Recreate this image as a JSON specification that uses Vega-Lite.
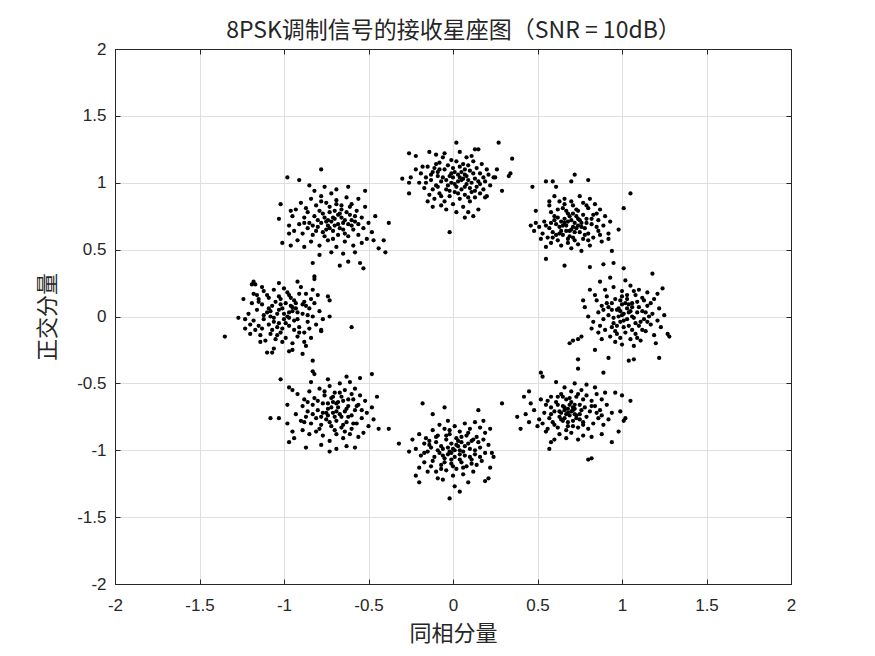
{
"$schema": "https://vega.github.io/schema/vega-lite/v6.json",
"width": 676, "height": 535,
"autosize": {"type": "none"},
"padding": {"left": 115, "top": 49, "right": 84, "bottom": 72},
"background": "white",
"config": {"view": {"stroke": "#262626", "strokeWidth": 1}},
"data": {"values": [
{"i":-0.15,"q":1.12},{"i":-0.12,"q":1.08},{"i":-0.08,"q":1.15},{"i":-0.05,"q":1.10},{"i":-0.02,"q":1.05},{"i":0.01,"q":1.08},{"i":0.04,"q":1.12},{"i":0.07,"q":1.06},{"i":0.10,"q":1.09},{"i":0.13,"q":1.03},{"i":0.16,"q":1.07},{"i":0.19,"q":1.01},{"i":0.22,"q":0.98},{"i":0.18,"q":0.95},{"i":0.14,"q":0.97},{"i":0.11,"q":0.93},{"i":0.08,"q":0.99},{"i":0.05,"q":1.02},{"i":0.02,"q":0.97},{"i":-0.01,"q":1.00},{"i":-0.04,"q":0.95},{"i":-0.07,"q":1.01},{"i":-0.10,"q":0.98},{"i":-0.13,"q":1.02},{"i":-0.16,"q":1.04},{"i":-0.19,"q":1.07},{"i":-0.17,"q":0.96},{"i":-0.14,"q":0.91},{"i":-0.11,"q":0.88},{"i":-0.08,"q":0.92},{"i":-0.05,"q":0.86},{"i":-0.02,"q":0.90},{"i":0.01,"q":0.93},{"i":0.04,"q":0.88},{"i":0.07,"q":0.91},{"i":0.10,"q":0.86},{"i":0.13,"q":0.89},{"i":0.16,"q":0.92},{"i":-0.09,"q":1.05},{"i":-0.03,"q":1.13},{"i":0.02,"q":1.16},{"i":0.06,"q":1.03},{"i":0.09,"q":1.13},{"i":0.12,"q":1.16},{"i":-0.06,"q":1.19},{"i":0.00,"q":1.04},{"i":0.03,"q":1.01},{"i":-0.01,"q":1.07},{"i":0.05,"q":0.95},{"i":0.09,"q":1.02},{"i":-0.12,"q":0.95},{"i":-0.18,"q":1.12},{"i":-0.22,"q":1.10},{"i":0.20,"q":1.10},{"i":0.24,"q":1.04},{"i":0.17,"q":1.14},{"i":-0.07,"q":0.83},{"i":-0.12,"q":0.82},{"i":0.00,"q":0.84},{"i":0.06,"q":0.82},{"i":-0.15,"q":0.86},{"i":-0.03,"q":0.98},{"i":0.11,"q":1.00},{"i":0.15,"q":1.01},{"i":0.03,"q":1.06},{"i":-0.08,"q":1.10},{"i":0.07,"q":0.97},{"i":-0.20,"q":1.00},{"i":0.26,"q":1.10},{"i":0.20,"q":0.90},{"i":-0.04,"q":0.80},{"i":0.09,"q":0.78},{"i":-0.10,"q":1.14},{"i":0.14,"q":1.11},
{"i":-0.06,"q":1.04},{"i":0.00,"q":1.11},{"i":0.05,"q":1.08},{"i":0.08,"q":1.05},{"i":-0.02,"q":0.94},{"i":0.03,"q":0.92},{"i":0.10,"q":0.96},{"i":-0.09,"q":0.97},{"i":-0.04,"q":1.02},{"i":0.12,"q":1.07},{"i":0.16,"q":0.99},{"i":-0.13,"q":1.06},{"i":0.06,"q":1.14},{"i":-0.11,"q":1.11},{"i":0.01,"q":0.99},{"i":0.04,"q":1.04},{"i":-0.07,"q":0.90},{"i":0.09,"q":0.89},{"i":0.18,"q":1.04},{"i":-0.16,"q":1.00},{"i":0.21,"q":1.06},{"i":-0.01,"q":1.17},{"i":0.13,"q":0.94},{"i":-0.09,"q":1.08},{"i":0.07,"q":1.10},
{"i":0.02,"q":1.30},{"i":0.27,"q":1.30},{"i":0.35,"q":1.18},{"i":-0.02,"q":0.63},{"i":-0.30,"q":1.03},{"i":0.25,"q":1.04},{"i":0.29,"q":0.94},{"i":0.19,"q":0.89},{"i":0.15,"q":0.80},{"i":0.07,"q":0.74},{"i":0.12,"q":0.75},{"i":0.02,"q":0.78},{"i":-0.14,"q":1.23},{"i":-0.10,"q":1.21},{"i":-0.05,"q":1.22},{"i":0.08,"q":1.19},{"i":0.11,"q":1.20},{"i":0.04,"q":1.23},{"i":0.13,"q":1.25},{"i":0.15,"q":1.25},{"i":-0.22,"q":1.20},{"i":-0.26,"q":1.22},{"i":-0.25,"q":1.04},{"i":-0.26,"q":1.00},{"i":-0.26,"q":0.92},{"i":0.34,"q":1.07},{"i":0.33,"q":1.05},
{"i":0.58,"q":0.78},{"i":0.62,"q":0.74},{"i":0.65,"q":0.81},{"i":0.68,"q":0.77},{"i":0.71,"q":0.83},{"i":0.74,"q":0.79},{"i":0.77,"q":0.85},{"i":0.80,"q":0.81},{"i":0.83,"q":0.76},{"i":0.86,"q":0.72},{"i":0.82,"q":0.69},{"i":0.79,"q":0.73},{"i":0.76,"q":0.70},{"i":0.73,"q":0.66},{"i":0.70,"q":0.72},{"i":0.67,"q":0.68},{"i":0.64,"q":0.64},{"i":0.61,"q":0.69},{"i":0.57,"q":0.66},{"i":0.54,"q":0.71},{"i":0.51,"q":0.67},{"i":0.53,"q":0.62},{"i":0.56,"q":0.59},{"i":0.59,"q":0.63},{"i":0.62,"q":0.57},{"i":0.65,"q":0.61},{"i":0.68,"q":0.55},{"i":0.71,"q":0.59},{"i":0.74,"q":0.54},{"i":0.77,"q":0.58},{"i":0.80,"q":0.62},{"i":0.83,"q":0.59},{"i":0.86,"q":0.64},{"i":0.89,"q":0.68},{"i":0.90,"q":0.75},{"i":0.87,"q":0.80},{"i":0.84,"q":0.84},{"i":0.66,"q":0.88},{"i":0.63,"q":0.86},{"i":0.60,"q":0.90},{"i":0.75,"q":0.90},{"i":0.69,"q":0.64},{"i":0.72,"q":0.70},{"i":0.66,"q":0.73},{"i":0.63,"q":0.67},{"i":0.60,"q":0.72},{"i":0.78,"q":0.66},{"i":0.75,"q":0.63},{"i":0.69,"q":0.60},{"i":0.64,"q":0.53},{"i":0.70,"q":0.51},{"i":0.76,"q":0.49},{"i":0.58,"q":0.55},{"i":0.55,"q":0.52},{"i":0.52,"q":0.58},{"i":0.49,"q":0.70},{"i":0.48,"q":0.64},{"i":0.93,"q":0.71},{"i":0.92,"q":0.62},{"i":0.88,"q":0.56},{"i":0.81,"q":0.53},{"i":0.67,"q":0.79},{"i":0.73,"q":0.75},{"i":0.77,"q":0.76},{"i":0.81,"q":0.88},{"i":0.70,"q":0.86},{"i":0.57,"q":0.83},{"i":0.61,"q":0.61},{"i":0.67,"q":0.64},{"i":0.72,"q":0.63},{"i":0.74,"q":0.68},{"i":0.79,"q":0.70},{"i":0.64,"q":0.71},{"i":0.68,"q":0.71},{"i":0.85,"q":0.67},
{"i":0.66,"q":0.70},{"i":0.71,"q":0.67},{"i":0.75,"q":0.72},{"i":0.69,"q":0.75},{"i":0.63,"q":0.62},{"i":0.78,"q":0.61},{"i":0.73,"q":0.80},{"i":0.60,"q":0.75},{"i":0.82,"q":0.73},{"i":0.68,"q":0.58},{"i":0.85,"q":0.77},{"i":0.55,"q":0.68},{"i":0.72,"q":0.57},{"i":0.66,"q":0.84},{"i":0.79,"q":0.83},{"i":0.62,"q":0.80},{"i":0.87,"q":0.61},{"i":0.59,"q":0.59},{"i":0.76,"q":0.67},{"i":0.70,"q":0.65},{"i":0.65,"q":0.68},{"i":0.74,"q":0.73},{"i":0.80,"q":0.57},{"i":0.58,"q":0.70},{"i":0.71,"q":0.77},
{"i":0.47,"q":0.97},{"i":0.55,"q":1.01},{"i":0.59,"q":1.01},{"i":0.61,"q":0.97},{"i":0.70,"q":1.01},{"i":0.72,"q":1.06},{"i":0.80,"q":1.02},{"i":1.05,"q":0.92},{"i":1.01,"q":0.81},{"i":0.55,"q":0.43},{"i":0.66,"q":0.38},{"i":0.81,"q":0.37},{"i":0.89,"q":0.39},{"i":0.95,"q":0.40},{"i":1.01,"q":0.36},{"i":0.94,"q":0.49},{"i":0.92,"q":0.58},{"i":0.98,"q":0.65},{"i":0.46,"q":0.68},{"i":0.49,"q":0.79},{"i":0.57,"q":0.86},
{"i":0.85,"q":0.12},{"i":0.88,"q":0.08},{"i":0.91,"q":0.15},{"i":0.94,"q":0.10},{"i":0.97,"q":0.05},{"i":1.00,"q":0.09},{"i":1.03,"q":0.13},{"i":1.06,"q":0.07},{"i":1.09,"q":0.11},{"i":1.12,"q":0.04},{"i":1.15,"q":0.08},{"i":1.18,"q":0.02},{"i":1.21,"q":-0.03},{"i":1.17,"q":-0.06},{"i":1.13,"q":-0.02},{"i":1.10,"q":-0.07},{"i":1.07,"q":-0.01},{"i":1.04,"q":0.03},{"i":1.01,"q":-0.03},{"i":0.98,"q":0.00},{"i":0.95,"q":-0.05},{"i":0.92,"q":0.01},{"i":0.89,"q":-0.02},{"i":0.86,"q":0.03},{"i":0.83,"q":-0.04},{"i":0.80,"q":0.00},{"i":0.82,"q":-0.09},{"i":0.86,"q":-0.12},{"i":0.90,"q":-0.10},{"i":0.93,"q":-0.15},{"i":0.96,"q":-0.11},{"i":0.99,"q":-0.16},{"i":1.02,"q":-0.12},{"i":1.05,"q":-0.17},{"i":1.08,"q":-0.13},{"i":1.11,"q":-0.18},{"i":1.14,"q":-0.11},{"i":1.19,"q":-0.14},{"i":1.23,"q":-0.08},{"i":1.22,"q":0.06},{"i":1.19,"q":0.13},{"i":1.15,"q":0.18},{"i":1.10,"q":0.20},{"i":1.05,"q":0.23},{"i":1.00,"q":0.19},{"i":0.95,"q":0.22},{"i":0.90,"q":0.20},{"i":0.87,"q":0.26},{"i":0.93,"q":0.29},{"i":1.02,"q":0.27},{"i":1.08,"q":0.16},{"i":1.03,"q":0.06},{"i":0.99,"q":0.12},{"i":1.06,"q":0.00},{"i":1.01,"q":0.02},{"i":0.97,"q":-0.07},{"i":1.09,"q":0.03},{"i":1.12,"q":-0.10},{"i":1.16,"q":0.00},{"i":0.94,"q":0.05},{"i":1.04,"q":-0.07},{"i":1.00,"q":-0.21},{"i":1.07,"q":-0.22},{"i":0.96,"q":-0.19},{"i":0.91,"q":0.10},{"i":1.13,"q":0.12},{"i":1.25,"q":0.01},{"i":0.78,"q":0.07},{"i":0.84,"q":0.16},{"i":1.20,"q":-0.20},{"i":0.88,"q":-0.17},{"i":1.03,"q":0.16},{"i":1.11,"q":-0.04},{"i":0.99,"q":0.04},{"i":1.06,"q":0.10},
{"i":1.00,"q":0.01},{"i":1.03,"q":-0.02},{"i":1.05,"q":0.04},{"i":0.98,"q":0.06},{"i":1.08,"q":-0.05},{"i":0.95,"q":-0.01},{"i":1.10,"q":0.07},{"i":1.02,"q":0.10},{"i":0.97,"q":-0.13},{"i":1.14,"q":0.03},{"i":0.92,"q":0.07},{"i":1.06,"q":-0.10},{"i":1.01,"q":-0.08},{"i":0.89,"q":0.05},{"i":1.17,"q":0.10},{"i":1.12,"q":0.14},{"i":0.94,"q":-0.08},{"i":1.00,"q":0.15},{"i":1.09,"q":-0.16},{"i":0.87,"q":-0.07},{"i":1.15,"q":-0.04},{"i":1.04,"q":0.09},{"i":0.96,"q":0.13},{"i":1.07,"q":0.19},{"i":0.99,"q":-0.04},
{"i":1.18,"q":0.32},{"i":0.69,"q":-0.20},{"i":0.71,"q":-0.18},{"i":0.74,"q":-0.17},{"i":0.76,"q":-0.15},{"i":0.74,"q":-0.32},{"i":1.04,"q":-0.33},{"i":1.07,"q":-0.32},{"i":1.22,"q":-0.31},{"i":1.28,"q":-0.15},{"i":1.27,"q":-0.13},{"i":1.24,"q":0.21},{"i":1.21,"q":0.17},{"i":0.84,"q":-0.25},{"i":0.92,"q":-0.31},{"i":0.81,"q":0.20},{"i":0.77,"q":0.12},
{"i":0.52,"q":-0.62},{"i":0.55,"q":-0.66},{"i":0.58,"q":-0.60},{"i":0.61,"q":-0.64},{"i":0.64,"q":-0.58},{"i":0.67,"q":-0.62},{"i":0.70,"q":-0.56},{"i":0.73,"q":-0.60},{"i":0.76,"q":-0.55},{"i":0.79,"q":-0.59},{"i":0.82,"q":-0.63},{"i":0.85,"q":-0.58},{"i":0.88,"q":-0.62},{"i":0.91,"q":-0.66},{"i":0.87,"q":-0.70},{"i":0.84,"q":-0.67},{"i":0.81,"q":-0.71},{"i":0.78,"q":-0.68},{"i":0.75,"q":-0.73},{"i":0.72,"q":-0.69},{"i":0.69,"q":-0.74},{"i":0.66,"q":-0.70},{"i":0.63,"q":-0.75},{"i":0.60,"q":-0.71},{"i":0.57,"q":-0.76},{"i":0.54,"q":-0.72},{"i":0.51,"q":-0.77},{"i":0.48,"q":-0.70},{"i":0.46,"q":-0.65},{"i":0.50,"q":-0.82},{"i":0.53,"q":-0.80},{"i":0.56,"q":-0.84},{"i":0.59,"q":-0.79},{"i":0.62,"q":-0.83},{"i":0.65,"q":-0.78},{"i":0.68,"q":-0.82},{"i":0.71,"q":-0.78},{"i":0.74,"q":-0.83},{"i":0.77,"q":-0.79},{"i":0.80,"q":-0.84},{"i":0.83,"q":-0.80},{"i":0.86,"q":-0.76},{"i":0.89,"q":-0.81},{"i":0.92,"q":-0.77},{"i":0.63,"q":-0.88},{"i":0.67,"q":-0.91},{"i":0.70,"q":-0.87},{"i":0.74,"q":-0.92},{"i":0.60,"q":-0.92},{"i":0.77,"q":-0.89},{"i":0.72,"q":-0.50},{"i":0.66,"q":-0.53},{"i":0.61,"q":-0.49},{"i":0.79,"q":-0.51},{"i":0.69,"q":-0.66},{"i":0.72,"q":-0.73},{"i":0.66,"q":-0.76},{"i":0.71,"q":-0.68},{"i":0.68,"q":-0.79},{"i":0.73,"q":-0.76},{"i":0.64,"q":-0.72},{"i":0.75,"q":-0.66},{"i":0.70,"q":-0.71},{"i":0.68,"q":-0.69},{"i":0.65,"q":-0.67},{"i":0.58,"q":-0.68},{"i":0.55,"q":-0.86},{"i":0.82,"q":-0.90},{"i":0.94,"q":-0.72},{"i":0.45,"q":-0.79},{"i":0.43,"q":-0.73},{"i":0.90,"q":-0.57},{"i":0.84,"q":-0.53},{"i":0.62,"q":-0.60},{"i":0.77,"q":-0.62},
{"i":0.68,"q":-0.72},{"i":0.71,"q":-0.70},{"i":0.66,"q":-0.68},{"i":0.73,"q":-0.74},{"i":0.64,"q":-0.77},{"i":0.76,"q":-0.70},{"i":0.70,"q":-0.64},{"i":0.62,"q":-0.66},{"i":0.79,"q":-0.75},{"i":0.67,"q":-0.85},{"i":0.74,"q":-0.58},{"i":0.58,"q":-0.73},{"i":0.82,"q":-0.67},{"i":0.60,"q":-0.81},{"i":0.85,"q":-0.72},{"i":0.71,"q":-0.82},{"i":0.65,"q":-0.60},{"i":0.77,"q":-0.81},{"i":0.56,"q":-0.63},{"i":0.88,"q":-0.74},{"i":0.69,"q":-0.61},{"i":0.63,"q":-0.71},{"i":0.75,"q":-0.77},{"i":0.67,"q":-0.73},{"i":0.72,"q":-0.66},
{"i":0.52,"q":-0.42},{"i":0.53,"q":-0.45},{"i":0.74,"q":-0.39},{"i":0.89,"q":-0.42},{"i":1.05,"q":-0.63},{"i":0.38,"q":-0.75},{"i":0.40,"q":-0.84},{"i":0.42,"q":-0.60},{"i":0.45,"q":-0.56},{"i":0.57,"q":-0.99},{"i":0.80,"q":-1.07},{"i":0.82,"q":-1.06},{"i":0.94,"q":-0.94},{"i":0.98,"q":-0.86},{"i":1.02,"q":-0.76},{"i":1.01,"q":-0.78},{"i":0.99,"q":-0.71},{"i":0.96,"q":-0.57},{"i":1.00,"q":-0.59},{"i":0.88,"q":-0.88},{"i":0.58,"q":-0.94},
{"i":-0.20,"q":-0.88},{"i":-0.16,"q":-0.91},{"i":-0.12,"q":-0.85},{"i":-0.09,"q":-0.89},{"i":-0.05,"q":-0.84},{"i":-0.02,"q":-0.88},{"i":0.01,"q":-0.82},{"i":0.04,"q":-0.86},{"i":0.07,"q":-0.80},{"i":0.10,"q":-0.84},{"i":0.13,"q":-0.79},{"i":0.16,"q":-0.83},{"i":0.19,"q":-0.87},{"i":0.14,"q":-0.90},{"i":0.11,"q":-0.93},{"i":0.08,"q":-0.89},{"i":0.05,"q":-0.94},{"i":0.02,"q":-0.91},{"i":-0.01,"q":-0.95},{"i":-0.04,"q":-0.92},{"i":-0.07,"q":-0.97},{"i":-0.10,"q":-0.94},{"i":-0.13,"q":-0.98},{"i":-0.17,"q":-0.95},{"i":-0.22,"q":-0.99},{"i":-0.19,"q":-1.04},{"i":-0.15,"q":-1.01},{"i":-0.11,"q":-1.05},{"i":-0.08,"q":-1.02},{"i":-0.05,"q":-1.06},{"i":-0.02,"q":-1.01},{"i":0.01,"q":-1.05},{"i":0.04,"q":-1.00},{"i":0.07,"q":-1.04},{"i":0.10,"q":-0.99},{"i":0.13,"q":-1.03},{"i":0.16,"q":-0.98},{"i":0.19,"q":-1.02},{"i":0.21,"q":-0.96},{"i":0.17,"q":-1.08},{"i":0.14,"q":-1.11},{"i":0.11,"q":-1.07},{"i":0.08,"q":-1.12},{"i":0.05,"q":-1.09},{"i":0.02,"q":-1.14},{"i":-0.01,"q":-1.10},{"i":-0.04,"q":-1.15},{"i":-0.07,"q":-1.11},{"i":-0.10,"q":-1.16},{"i":-0.13,"q":-1.12},{"i":-0.17,"q":-1.09},{"i":-0.20,"q":-1.13},{"i":0.00,"q":-1.19},{"i":0.06,"q":-1.18},{"i":-0.06,"q":-1.22},{"i":0.12,"q":-1.16},{"i":0.03,"q":-0.97},{"i":-0.03,"q":-1.03},{"i":0.00,"q":-0.99},{"i":0.06,"q":-1.01},{"i":-0.06,"q":-0.99},{"i":0.09,"q":-0.95},{"i":0.12,"q":-0.92},{"i":0.15,"q":-0.94},{"i":-0.14,"q":-0.93},{"i":-0.24,"q":-0.92},{"i":0.18,"q":-0.78},{"i":0.22,"q":-0.84},{"i":-0.08,"q":-0.81},{"i":0.01,"q":-1.27},{"i":0.09,"q":-1.24},{"i":-0.03,"q":-0.78},{"i":0.04,"q":-1.07},{"i":-0.01,"q":-1.02},{"i":0.02,"q":-0.96},
{"i":0.01,"q":-1.00},{"i":-0.03,"q":-0.98},{"i":0.04,"q":-1.03},{"i":-0.06,"q":-1.04},{"i":0.07,"q":-0.97},{"i":-0.09,"q":-1.00},{"i":0.10,"q":-1.05},{"i":-0.01,"q":-1.07},{"i":0.03,"q":-0.93},{"i":-0.12,"q":-1.08},{"i":0.13,"q":-1.00},{"i":-0.04,"q":-0.89},{"i":0.06,"q":-1.13},{"i":-0.14,"q":-0.96},{"i":0.16,"q":-1.05},{"i":-0.07,"q":-1.14},{"i":0.09,"q":-0.87},{"i":-0.17,"q":-1.02},{"i":0.18,"q":-0.92},{"i":0.00,"q":-1.12},{"i":-0.10,"q":-0.90},{"i":0.11,"q":-1.10},{"i":-0.02,"q":-0.85},{"i":0.05,"q":-0.90},{"i":-0.05,"q":-1.09},
{"i":-0.18,"q":-0.65},{"i":-0.05,"q":-0.68},{"i":0.29,"q":-0.65},{"i":0.15,"q":-0.70},{"i":-0.12,"q":-0.73},{"i":-0.32,"q":-0.95},{"i":-0.26,"q":-1.01},{"i":-0.22,"q":-1.19},{"i":-0.20,"q":-1.24},{"i":-0.02,"q":-1.36},{"i":0.04,"q":-1.31},{"i":0.21,"q":-1.21},{"i":0.22,"q":-1.13},{"i":0.23,"q":-1.02},{"i":0.24,"q":-1.05},{"i":-0.15,"q":-1.16},{"i":-0.09,"q":-1.21},{"i":0.19,"q":-1.23},
{"i":-0.92,"q":-0.58},{"i":-0.88,"q":-0.62},{"i":-0.85,"q":-0.56},{"i":-0.82,"q":-0.61},{"i":-0.79,"q":-0.54},{"i":-0.76,"q":-0.59},{"i":-0.73,"q":-0.52},{"i":-0.70,"q":-0.57},{"i":-0.67,"q":-0.50},{"i":-0.64,"q":-0.55},{"i":-0.61,"q":-0.49},{"i":-0.58,"q":-0.54},{"i":-0.55,"q":-0.59},{"i":-0.52,"q":-0.63},{"i":-0.56,"q":-0.66},{"i":-0.59,"q":-0.62},{"i":-0.62,"q":-0.67},{"i":-0.65,"q":-0.63},{"i":-0.68,"q":-0.68},{"i":-0.71,"q":-0.64},{"i":-0.74,"q":-0.69},{"i":-0.77,"q":-0.65},{"i":-0.80,"q":-0.70},{"i":-0.83,"q":-0.66},{"i":-0.86,"q":-0.71},{"i":-0.89,"q":-0.67},{"i":-0.93,"q":-0.73},{"i":-0.90,"q":-0.78},{"i":-0.87,"q":-0.75},{"i":-0.84,"q":-0.80},{"i":-0.81,"q":-0.76},{"i":-0.78,"q":-0.81},{"i":-0.75,"q":-0.77},{"i":-0.72,"q":-0.82},{"i":-0.69,"q":-0.78},{"i":-0.66,"q":-0.83},{"i":-0.63,"q":-0.79},{"i":-0.60,"q":-0.84},{"i":-0.57,"q":-0.80},{"i":-0.54,"q":-0.76},{"i":-0.51,"q":-0.72},{"i":-0.48,"q":-0.68},{"i":-0.47,"q":-0.77},{"i":-0.50,"q":-0.82},{"i":-0.53,"q":-0.87},{"i":-0.56,"q":-0.90},{"i":-0.61,"q":-0.88},{"i":-0.65,"q":-0.91},{"i":-0.69,"q":-0.88},{"i":-0.73,"q":-0.93},{"i":-0.77,"q":-0.89},{"i":-0.81,"q":-0.86},{"i":-0.85,"q":-0.88},{"i":-0.89,"q":-0.85},{"i":-0.71,"q":-0.72},{"i":-0.67,"q":-0.73},{"i":-0.64,"q":-0.71},{"i":-0.70,"q":-0.75},{"i":-0.74,"q":-0.74},{"i":-0.77,"q":-0.72},{"i":-0.62,"q":-0.75},{"i":-0.66,"q":-0.60},{"i":-0.72,"q":-0.61},{"i":-0.60,"q":-0.58},{"i":-0.58,"q":-0.70},{"i":-0.63,"q":-0.97},{"i":-0.78,"q":-0.96},{"i":-0.84,"q":-0.49},{"i":-0.74,"q":-0.47},{"i":-0.63,"q":-0.45},{"i":-0.55,"q":-0.46},{"i":-0.98,"q":-0.66},{"i":-0.95,"q":-0.86},{"i":-0.45,"q":-0.60},{"i":-0.69,"q":-0.65},
{"i":-0.69,"q":-0.71},{"i":-0.72,"q":-0.68},{"i":-0.66,"q":-0.75},{"i":-0.75,"q":-0.72},{"i":-0.63,"q":-0.69},{"i":-0.78,"q":-0.75},{"i":-0.68,"q":-0.64},{"i":-0.60,"q":-0.74},{"i":-0.73,"q":-0.79},{"i":-0.80,"q":-0.63},{"i":-0.65,"q":-0.81},{"i":-0.57,"q":-0.67},{"i":-0.83,"q":-0.73},{"i":-0.70,"q":-0.85},{"i":-0.62,"q":-0.62},{"i":-0.86,"q":-0.64},{"i":-0.76,"q":-0.56},{"i":-0.54,"q":-0.70},{"i":-0.67,"q":-0.57},{"i":-0.79,"q":-0.84},{"i":-0.59,"q":-0.80},{"i":-0.71,"q":-0.60},{"i":-0.88,"q":-0.79},{"i":-0.64,"q":-0.86},{"i":-0.74,"q":-0.65},
{"i":-1.02,"q":-0.47},{"i":-1.08,"q":-0.76},{"i":-1.03,"q":-0.76},{"i":-0.97,"q":-0.94},{"i":-0.94,"q":-0.91},{"i":-0.48,"q":-0.43},{"i":-0.38,"q":-0.84},{"i":-0.44,"q":-0.84},{"i":-0.73,"q":-1.01},{"i":-0.69,"q":-0.99},{"i":-0.58,"q":-0.98},{"i":-0.82,"q":-0.43},{"i":-0.83,"q":-0.41},{"i":-0.97,"q":-0.53},{"i":-0.95,"q":-0.55},{"i":-0.87,"q":-0.98},{"i":-0.98,"q":-0.80},
{"i":-1.18,"q":0.17},{"i":-1.15,"q":0.13},{"i":-1.12,"q":0.19},{"i":-1.09,"q":0.14},{"i":-1.06,"q":0.20},{"i":-1.03,"q":0.15},{"i":-1.00,"q":0.21},{"i":-0.97,"q":0.16},{"i":-0.94,"q":0.12},{"i":-0.91,"q":0.17},{"i":-0.88,"q":0.11},{"i":-0.85,"q":0.06},{"i":-0.82,"q":0.10},{"i":-0.79,"q":0.04},{"i":-0.83,"q":0.00},{"i":-0.86,"q":-0.04},{"i":-0.89,"q":0.02},{"i":-0.92,"q":-0.02},{"i":-0.95,"q":0.04},{"i":-0.98,"q":0.00},{"i":-1.01,"q":0.06},{"i":-1.04,"q":0.02},{"i":-1.07,"q":0.08},{"i":-1.10,"q":0.03},{"i":-1.13,"q":0.09},{"i":-1.16,"q":0.05},{"i":-1.19,"q":0.10},{"i":-1.21,"q":0.02},{"i":-1.18,"q":-0.03},{"i":-1.15,"q":-0.07},{"i":-1.12,"q":-0.02},{"i":-1.09,"q":-0.06},{"i":-1.06,"q":-0.01},{"i":-1.03,"q":-0.05},{"i":-1.00,"q":-0.02},{"i":-0.97,"q":-0.07},{"i":-0.94,"q":-0.03},{"i":-0.91,"q":-0.08},{"i":-0.88,"q":-0.12},{"i":-0.85,"q":-0.09},{"i":-0.81,"q":-0.06},{"i":-0.78,"q":-0.10},{"i":-0.84,"q":-0.16},{"i":-0.88,"q":-0.19},{"i":-0.92,"q":-0.15},{"i":-0.95,"q":-0.20},{"i":-0.99,"q":-0.16},{"i":-1.02,"q":-0.12},{"i":-1.05,"q":-0.17},{"i":-1.08,"q":-0.13},{"i":-1.11,"q":-0.18},{"i":-1.14,"q":-0.14},{"i":-1.17,"q":-0.10},{"i":-1.20,"q":-0.06},{"i":-0.99,"q":0.10},{"i":-1.02,"q":0.09},{"i":-0.96,"q":0.08},{"i":-1.05,"q":0.11},{"i":-0.93,"q":0.06},{"i":-1.01,"q":-0.09},{"i":-0.97,"q":0.03},{"i":-1.08,"q":0.00},{"i":-0.90,"q":0.22},{"i":-1.13,"q":0.22},{"i":-1.19,"q":0.24},{"i":-0.83,"q":0.20},{"i":-0.95,"q":-0.25},{"i":-1.06,"q":-0.24},{"i":-0.77,"q":-0.02},{"i":-1.23,"q":-0.02},{"i":-1.16,"q":0.16},{"i":-0.80,"q":0.16},{"i":-1.03,"q":0.25},{"i":-0.87,"q":0.08},{"i":-1.04,"q":-0.08},
{"i":-1.00,"q":0.02},{"i":-0.97,"q":-0.01},{"i":-1.03,"q":0.05},{"i":-0.95,"q":0.07},{"i":-1.06,"q":-0.04},{"i":-0.92,"q":0.03},{"i":-1.09,"q":0.06},{"i":-0.99,"q":-0.05},{"i":-1.02,"q":0.13},{"i":-0.94,"q":-0.10},{"i":-1.12,"q":0.01},{"i":-0.89,"q":0.09},{"i":-1.07,"q":-0.10},{"i":-0.96,"q":0.14},{"i":-1.15,"q":0.11},{"i":-0.86,"q":0.01},{"i":-1.04,"q":-0.14},{"i":-0.91,"q":-0.12},{"i":-1.10,"q":0.16},{"i":-0.98,"q":0.18},{"i":-0.84,"q":0.13},{"i":-1.13,"q":-0.09},{"i":-0.93,"q":0.10},{"i":-1.01,"q":-0.19},{"i":-1.08,"q":0.04},
{"i":-1.35,"q":-0.15},{"i":-0.60,"q":-0.08},{"i":-0.82,"q":0.28},{"i":-0.92,"q":0.26},{"i":-1.24,"q":0.13},{"i":-1.27,"q":-0.01},{"i":-1.23,"q":-0.09},{"i":-1.20,"q":-0.13},{"i":-1.14,"q":-0.19},{"i":-1.10,"q":-0.27},{"i":-1.07,"q":-0.27},{"i":-0.97,"q":-0.26},{"i":-0.89,"q":-0.28},{"i":-0.83,"q":-0.33},{"i":-0.87,"q":-0.22},{"i":-0.78,"q":-0.11},{"i":-0.73,"q":0.00},{"i":-0.74,"q":0.15},{"i":-0.73,"q":0.12},{"i":-0.87,"q":0.17},{"i":-1.18,"q":0.26},{"i":-1.17,"q":0.24},
{"i":-0.90,"q":0.85},{"i":-0.87,"q":0.81},{"i":-0.84,"q":0.88},{"i":-0.81,"q":0.83},{"i":-0.78,"q":0.90},{"i":-0.75,"q":0.85},{"i":-0.72,"q":0.92},{"i":-0.69,"q":0.87},{"i":-0.66,"q":0.83},{"i":-0.63,"q":0.89},{"i":-0.60,"q":0.84},{"i":-0.57,"q":0.79},{"i":-0.54,"q":0.74},{"i":-0.58,"q":0.71},{"i":-0.61,"q":0.76},{"i":-0.64,"q":0.72},{"i":-0.67,"q":0.77},{"i":-0.70,"q":0.73},{"i":-0.73,"q":0.78},{"i":-0.76,"q":0.74},{"i":-0.79,"q":0.79},{"i":-0.82,"q":0.75},{"i":-0.85,"q":0.70},{"i":-0.88,"q":0.74},{"i":-0.91,"q":0.69},{"i":-0.94,"q":0.64},{"i":-0.89,"q":0.62},{"i":-0.86,"q":0.66},{"i":-0.83,"q":0.61},{"i":-0.80,"q":0.67},{"i":-0.77,"q":0.63},{"i":-0.74,"q":0.68},{"i":-0.71,"q":0.64},{"i":-0.68,"q":0.69},{"i":-0.65,"q":0.65},{"i":-0.62,"q":0.60},{"i":-0.59,"q":0.65},{"i":-0.56,"q":0.61},{"i":-0.53,"q":0.66},{"i":-0.50,"q":0.70},{"i":-0.48,"q":0.63},{"i":-0.51,"q":0.58},{"i":-0.54,"q":0.55},{"i":-0.59,"q":0.53},{"i":-0.64,"q":0.56},{"i":-0.69,"q":0.52},{"i":-0.74,"q":0.57},{"i":-0.79,"q":0.53},{"i":-0.84,"q":0.56},{"i":-0.88,"q":0.52},{"i":-0.92,"q":0.57},{"i":-0.72,"q":0.71},{"i":-0.75,"q":0.71},{"i":-0.70,"q":0.79},{"i":-0.66,"q":0.74},{"i":-0.78,"q":0.70},{"i":-0.73,"q":0.66},{"i":-0.68,"q":0.61},{"i":-0.62,"q":0.69},{"i":-0.82,"q":0.94},{"i":-0.76,"q":0.97},{"i":-0.69,"q":0.95},{"i":-0.62,"q":0.97},{"i":-0.56,"q":0.88},{"i":-0.52,"q":0.82},{"i":-0.95,"q":0.75},{"i":-0.97,"q":0.62},{"i":-0.79,"q":0.46},{"i":-0.72,"q":0.48},{"i":-0.65,"q":0.47},{"i":-0.58,"q":0.48},{"i":-0.46,"q":0.75},{"i":-0.93,"q":0.80},{"i":-0.85,"q":0.98},{"i":-0.60,"q":0.72},
{"i":-0.71,"q":0.74},{"i":-0.74,"q":0.72},{"i":-0.68,"q":0.76},{"i":-0.77,"q":0.77},{"i":-0.65,"q":0.70},{"i":-0.70,"q":0.68},{"i":-0.80,"q":0.72},{"i":-0.63,"q":0.78},{"i":-0.73,"q":0.82},{"i":-0.67,"q":0.66},{"i":-0.83,"q":0.68},{"i":-0.60,"q":0.68},{"i":-0.76,"q":0.60},{"i":-0.86,"q":0.78},{"i":-0.58,"q":0.75},{"i":-0.69,"q":0.84},{"i":-0.81,"q":0.64},{"i":-0.64,"q":0.62},{"i":-0.78,"q":0.86},{"i":-0.56,"q":0.69},{"i":-0.88,"q":0.70},{"i":-0.66,"q":0.80},{"i":-0.75,"q":0.65},{"i":-0.71,"q":0.58},{"i":-0.61,"q":0.82},
{"i":-0.78,"q":1.10},{"i":-0.98,"q":1.04},{"i":-0.91,"q":1.02},{"i":-1.02,"q":0.84},{"i":-1.03,"q":0.73},{"i":-1.01,"q":0.55},{"i":-0.96,"q":0.53},{"i":-0.83,"q":0.40},{"i":-0.67,"q":0.38},{"i":-0.62,"q":0.41},{"i":-0.55,"q":0.40},{"i":-0.53,"q":0.36},{"i":-0.40,"q":0.48},{"i":-0.41,"q":0.57},{"i":-0.38,"q":0.70},{"i":-0.44,"q":0.51},{"i":-0.47,"q":0.57},{"i":-0.52,"q":0.94},{"i":-0.82,"q":0.30},{"i":-0.97,"q":0.68},{"i":-0.96,"q":0.79}
]},
"layer": [
{"mark": {"type": "point", "filled": true, "color": "#000000", "size": 18, "opacity": 1, "strokeWidth": 0},
 "encoding": {
  "x": {"field": "i", "type": "quantitative", "scale": {"domain": [-2, 2], "nice": false, "zero": false},
   "axis": {"orient": "bottom", "title": "同相分量", "values": [-2,-1.5,-1,-0.5,0,0.5,1,1.5,2], "format": "~g", "labelExpr": "replace(datum.label, '−', '-')", "grid": true, "gridColor": "#dfdfdf", "gridWidth": 1, "domainColor": "#262626", "tickColor": "#262626", "tickSize": -5, "labelPadding": 18, "labelFont": "Liberation Sans", "labelFontSize": 17, "labelColor": "#262626", "labelFlush": false, "titleFont": "Noto Sans CJK SC", "titleFontSize": 22, "titleFontWeight": "normal", "titleColor": "#262626", "titlePadding": 10}},
  "y": {"field": "q", "type": "quantitative", "scale": {"domain": [-2, 2], "nice": false, "zero": false},
   "axis": {"orient": "left", "title": "正交分量", "values": [-2,-1.5,-1,-0.5,0,0.5,1,1.5,2], "format": "~g", "labelExpr": "replace(datum.label, '−', '-')", "grid": true, "gridColor": "#dfdfdf", "gridWidth": 1, "domainColor": "#262626", "tickColor": "#262626", "tickSize": -5, "labelPadding": 14, "labelFont": "Liberation Sans", "labelFontSize": 17, "labelColor": "#262626", "labelFlush": false, "titleFont": "Noto Sans CJK SC", "titleFontSize": 22, "titleFontWeight": "normal", "titleColor": "#262626", "titlePadding": 17}}
 }},
{"mark": {"type": "point", "opacity": 0},
 "encoding": {
  "x": {"field": "i", "type": "quantitative", "axis": {"orient": "top", "title": "8PSK调制信号的接收星座图（SNR = 10dB）", "titleFont": "Noto Sans CJK SC", "titleFontSize": 23, "titleFontWeight": "normal", "titleColor": "#262626", "titlePadding": 6, "labels": false, "grid": false, "values": [-2,-1.5,-1,-0.5,0,0.5,1,1.5,2], "domainColor": "#262626", "tickColor": "#262626", "tickSize": -5}},
  "y": {"field": "q", "type": "quantitative", "axis": {"orient": "right", "title": null, "labels": false, "grid": false, "values": [-2,-1.5,-1,-0.5,0,0.5,1,1.5,2], "domainColor": "#262626", "tickColor": "#262626", "tickSize": -5}}
 }}
],
"resolve": {"axis": {"x": "independent", "y": "independent"}}
}
